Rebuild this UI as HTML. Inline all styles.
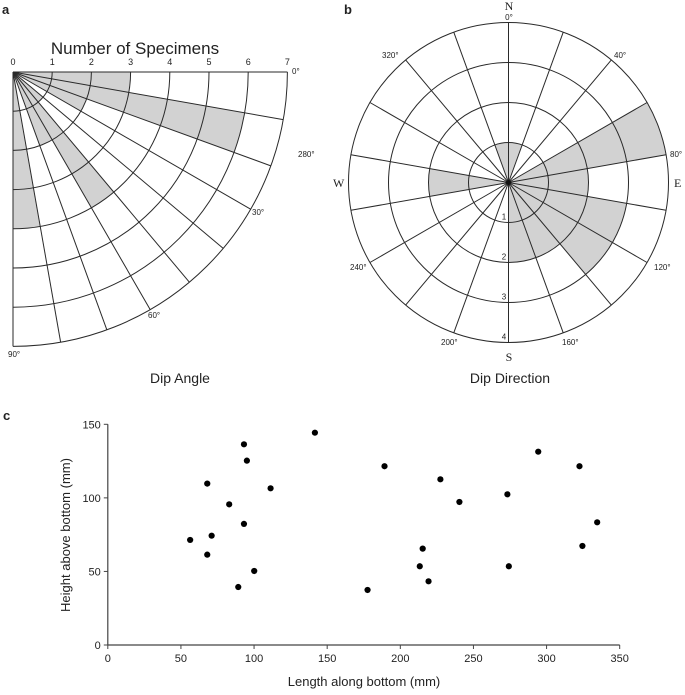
<!DOCTYPE html>
<html><head><meta charset="utf-8"><style>
html,body{margin:0;padding:0;background:#fff;width:685px;height:695px;overflow:hidden}
svg{display:block}
text{font-family:"Liberation Sans",sans-serif;fill:#222}
.serif{font-family:"Liberation Serif",serif}
</style></head><body>
<svg id="s" width="685" height="695" viewBox="0 0 685 695">
<text x="2" y="14" font-size="13" font-weight="bold">a</text>
<text x="344" y="14" font-size="13" font-weight="bold">b</text>
<text x="3" y="420" font-size="13" font-weight="bold">c</text>
<g id="ga"></g>
<g id="gb"></g>
<g id="gc"></g>
</svg>
<script>
// Panel a: counts per 10° dip sector (0-10 ... 80-90)
const dipSectors = [0,10,20,30,40,50,60,70,80];
const dipCounts = [3,6,2,0,1,4,2,0,4];
const dipTicks = [0,1,2,3,4,5,6,7];
const dipAngleLabels = ["0°","30°","60°","90°"];
// Panel b: counts per 20° direction sector
const dirSectors = [0,20,40,60,80,100,120,140,160,180,200,220,240,260,280,300,320,340];
const dirCounts = [1,0,0,4,2,3,3,2,2,0,0,0,0,2,0,0,0,1];
const dirLabels = ["0°","40°","80°","120°","160°","200°","240°","280°","320°"];
const ringLabels = ["1","2","3","4"];
// Panel c: scatter
const lengthVals = [56.3,68.0,68.0,71.0,83.0,93.1,95.1,93.1,111.3,89.2,100.1,141.6,177.6,189.2,213.3,215.3,219.3,227.4,240.4,273.2,274.2,294.3,322.5,324.5,334.6];
const heightVals = [71.4,109.7,61.4,74.3,95.6,136.4,125.3,82.3,106.5,39.4,50.3,144.3,37.4,121.5,53.5,65.5,43.3,112.6,97.2,102.4,53.5,131.4,121.5,67.3,83.4];
const xTicks = [0,50,100,150,200,250,300,350];
const yTicks = [0,50,100,150];

const NS="http://www.w3.org/2000/svg";
function mk(parent,tag,attrs,txt){const e=document.createElementNS(NS,tag);for(const k in attrs)e.setAttribute(k,attrs[k]);if(txt!==undefined)e.textContent=txt;parent.appendChild(e);return e;}
const LC="#2a2a2a", GF="#d2d2d2", SW=1.0;

// ---------- Panel a ----------
const ga=document.getElementById('ga');
const ax=13, ay=72, au=39.2;
function pa(r,deg){const t=deg*Math.PI/180;return [ax+r*au*Math.cos(t), ay+r*au*Math.sin(t)];}
function wedgeA(r,a0,a1){const p0=pa(r,a0),p1=pa(r,a1);return `M${ax},${ay}L${p0[0]},${p0[1]}A${r*au},${r*au} 0 0 1 ${p1[0]},${p1[1]}Z`;}
dipSectors.forEach((s,i)=>{ if(dipCounts[i]>0){
  const w=mk(ga,'path',{d:wedgeA(dipCounts[i],s,s+10),fill:GF,stroke:'none'});
  
  
}});
for(let r=1;r<=7;r++){const p0=pa(r,0),p1=pa(r,90);
  mk(ga,'path',{d:`M${p0[0]},${p0[1]}A${r*au},${r*au} 0 0 1 ${p1[0]},${p1[1]}`,fill:'none',stroke:LC,'stroke-width':SW});}
for(let d=0;d<=90;d+=10){const p=pa(7,d);mk(ga,'line',{x1:ax,y1:ay,x2:p[0],y2:p[1],stroke:LC,'stroke-width':SW});}
dipTicks.forEach(t=>{const e=mk(ga,'text',{x:ax+t*au,y:65,'font-size':9,'text-anchor':'middle'},String(t));
  
  });
mk(ga,'text',{x:135,y:54,'font-size':17,'text-anchor':'middle',},'Number of Specimens');
mk(ga,'text',{x:292,y:74,'font-size':8,},dipAngleLabels[0]);
mk(ga,'text',{x:252,y:215,'font-size':8,},dipAngleLabels[1]);
mk(ga,'text',{x:148,y:318,'font-size':8,},dipAngleLabels[2]);
mk(ga,'text',{x:8,y:357,'font-size':8,},dipAngleLabels[3]);
mk(ga,'text',{x:180,y:383,'font-size':14,'text-anchor':'middle',},'Dip Angle');

// ---------- Panel b ----------
const gb=document.getElementById('gb');
const bx=508.5, by=182.5, bu=40;
function pb(r,deg){const t=deg*Math.PI/180;return [bx+r*bu*Math.sin(t), by-r*bu*Math.cos(t)];}
dirSectors.forEach((s,i)=>{ if(dirCounts[i]>0){const r=dirCounts[i];const p0=pb(r,s),p1=pb(r,s+20);
  const w=mk(gb,'path',{d:`M${bx},${by}L${p0[0]},${p0[1]}A${r*bu},${r*bu} 0 0 1 ${p1[0]},${p1[1]}Z`,fill:GF,stroke:'none'});
  
  
}});
for(let r=1;r<=4;r++) mk(gb,'circle',{cx:bx,cy:by,r:r*bu,fill:'none',stroke:LC,'stroke-width':SW});
dirSectors.forEach(s=>{const p=pb(4,s);mk(gb,'line',{x1:bx,y1:by,x2:p[0],y2:p[1],stroke:LC,'stroke-width':SW});});
mk(gb,'circle',{cx:bx,cy:by,r:2.5,fill:'#111'});
const dlPos=[[509,20,'middle'],[614,58,'start'],[670,157,'start'],[654,270,'start'],[562,345,'start'],[441,345,'start'],[350,270,'start'],[298,157,'start'],[382,58,'start']];
dirLabels.forEach((l,i)=>{const e=mk(gb,'text',{x:dlPos[i][0],y:dlPos[i][1],'font-size':8,'text-anchor':dlPos[i][2]},l);
  
  });
ringLabels.forEach((l,i)=>{const e=mk(gb,'text',{x:504,y:by+(i+1)*bu-3,'font-size':8,'text-anchor':'middle'},l);
  
  });
mk(gb,'text',{x:509,y:10,'font-size':12,'text-anchor':'middle','class':'serif',},'N');
mk(gb,'text',{x:509,y:361,'font-size':12,'text-anchor':'middle','class':'serif',},'S');
mk(gb,'text',{x:674,y:187,'font-size':12,'class':'serif',},'E');
mk(gb,'text',{x:333,y:187,'font-size':12,'class':'serif',},'W');
mk(gb,'text',{x:510,y:383,'font-size':14,'text-anchor':'middle',},'Dip Direction');

// ---------- Panel c ----------
const gc=document.getElementById('gc');
const x0=107.8,x1=619.7,y0=645,y1=424.3;
const sx=v=>x0+(v-0)*(x1-x0)/350;
const sy=v=>y0-(v-0)*(y0-y1)/150;
mk(gc,'line',{x1:x0,y1:y0,x2:x1,y2:y0,stroke:'#444','stroke-width':1.2,});
mk(gc,'line',{x1:x0,y1:y0,x2:x0,y2:y1,stroke:'#444','stroke-width':1.2,});
xTicks.forEach(t=>{mk(gc,'line',{x1:sx(t),y1:y0,x2:sx(t),y2:y0+4,stroke:'#444'});
  const e=mk(gc,'text',{x:sx(t),y:y0+17,'font-size':11,'text-anchor':'middle'},String(t));
  
  });
yTicks.forEach(t=>{mk(gc,'line',{x1:x0-4,y1:sy(t),x2:x0,y2:sy(t),stroke:'#444'});
  const e=mk(gc,'text',{x:x0-7,y:sy(t)+4,'font-size':11,'text-anchor':'end'},String(t));
  
  });
lengthVals.forEach((v,i)=>{const c=mk(gc,'circle',{cx:sx(v),cy:sy(heightVals[i]),r:3.1,fill:'#000'});
  
  });
mk(gc,'text',{x:364,y:686,'font-size':13,'text-anchor':'middle',},'Length along bottom (mm)');
mk(gc,'text',{x:0,y:0,'font-size':13,'text-anchor':'middle',transform:'translate(70,535) rotate(-90)',},'Height above bottom (mm)');
</script>
</body></html>
